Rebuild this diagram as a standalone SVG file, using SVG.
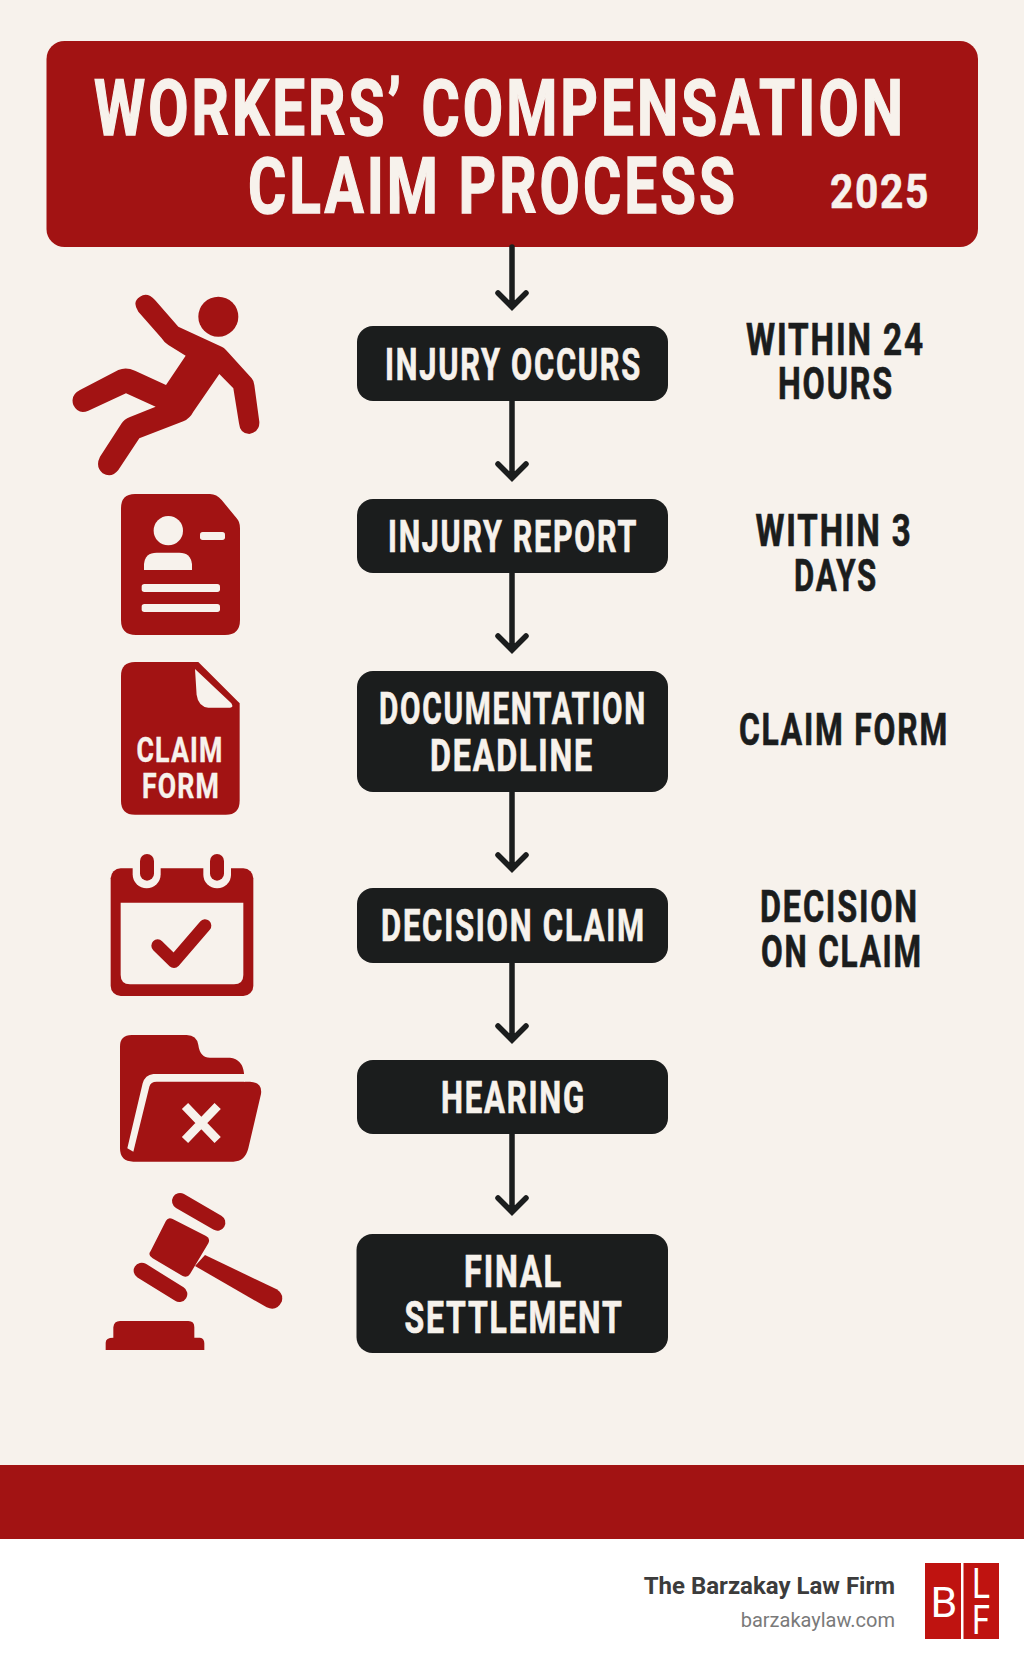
<svg xmlns="http://www.w3.org/2000/svg" width="1024" height="1666" viewBox="0 0 1024 1666">
<style>
.t{font-family:Roboto,"Liberation Sans",sans-serif;font-weight:700;text-anchor:middle}
.h{fill:#f7f2ec;stroke:#f7f2ec;stroke-width:1.4;font-size:77px;letter-spacing:4px}
.y{fill:#f7f2ec;stroke:#f7f2ec;stroke-width:.6;font-size:49px;letter-spacing:2px}
.b{fill:#f7f2ec;stroke:#f7f2ec;stroke-width:.7;font-size:44px;letter-spacing:2.500px}
.s{fill:#1b1d1d;stroke:#1b1d1d;stroke-width:.7;font-size:44px;letter-spacing:2.500px}
.i{fill:#f7f2ec;stroke:#f7f2ec;stroke-width:.4;font-size:35px;letter-spacing:1.500px}
.node{fill:#1b1d1d}
.red{fill:#a21313}
.bg{fill:#f7f2ec}
.c{fill:none;stroke:#1b1d1d;stroke-width:5.5;stroke-linecap:round;stroke-linejoin:miter}
</style>
<rect class="bg" width="1024" height="1666"/>
<g id="header"><rect class="red" x="46.5" y="41" width="931.5" height="206" rx="18"/>
<text class="t h" x="500" y="135" textLength="812" lengthAdjust="spacingAndGlyphs">WORKERS’ COMPENSATION</text>
<text class="t h" x="493" y="213" textLength="490" lengthAdjust="spacingAndGlyphs">CLAIM PROCESS</text>
<text class="t y" x="880" y="208" textLength="100" lengthAdjust="spacingAndGlyphs">2025</text></g>
<g id="connectors" class="c">
<path d="M512 247V307M498 293L512 307L526 293"/>
<path d="M512 400V478M498 464L512 478L526 464"/>
<path d="M512 573V650M498 636L512 650L526 636"/>
<path d="M512 792V869M498 855L512 869L526 855"/>
<path d="M512 963V1040M498 1026L512 1040L526 1026"/>
<path d="M512 1134V1212M498 1198L512 1212L526 1198"/>
</g>
<g id="n1"><rect class="node" x="357" y="326" width="311" height="75" rx="16"/><text class="t b" x="513.5" y="380" textLength="257" lengthAdjust="spacingAndGlyphs">INJURY OCCURS</text></g>
<g id="n2"><rect class="node" x="357" y="499" width="311" height="74" rx="16"/><text class="t b" x="513" y="552" textLength="250" lengthAdjust="spacingAndGlyphs">INJURY REPORT</text></g>
<g id="n3"><rect class="node" x="357" y="671" width="311" height="121" rx="16"/><text class="t b" x="513" y="724" textLength="268" lengthAdjust="spacingAndGlyphs">DOCUMENTATION</text><text class="t b" x="512" y="771" textLength="164" lengthAdjust="spacingAndGlyphs">DEADLINE</text></g>
<g id="n4"><rect class="node" x="357" y="888" width="311" height="75" rx="16"/><text class="t b" x="513.5" y="941" textLength="265" lengthAdjust="spacingAndGlyphs">DECISION CLAIM</text></g>
<g id="n5"><rect class="node" x="357" y="1060" width="311" height="74" rx="16"/><text class="t b" x="513.500" y="1113" textLength="145" lengthAdjust="spacingAndGlyphs">HEARING</text></g>
<g id="n6"><rect class="node" x="356.500" y="1234" width="311.500" height="119" rx="16"/><text class="t b" x="513.5" y="1287" textLength="99" lengthAdjust="spacingAndGlyphs">FINAL</text><text class="t b" x="514" y="1333" textLength="219" lengthAdjust="spacingAndGlyphs">SETTLEMENT</text></g>
<g id="side1"><text class="t s" x="835.500" y="355" textLength="179" lengthAdjust="spacingAndGlyphs">WITHIN 24</text><text class="t s" x="836" y="399" textLength="116" lengthAdjust="spacingAndGlyphs">HOURS</text></g>
<g id="side2"><text class="t s" x="834" y="546" textLength="157" lengthAdjust="spacingAndGlyphs">WITHIN 3</text><text class="t s" x="836" y="591" textLength="84" lengthAdjust="spacingAndGlyphs">DAYS</text></g>
<g id="side3"><text class="t s" x="844" y="745" textLength="210" lengthAdjust="spacingAndGlyphs">CLAIM FORM</text></g>
<g id="side4"><text class="t s" x="839.500" y="922" textLength="159" lengthAdjust="spacingAndGlyphs">DECISION</text><text class="t s" x="842" y="967" textLength="162" lengthAdjust="spacingAndGlyphs">ON CLAIM</text></g>
<g id="icon-fall" transform="translate(40 280) scale(.33333)">
<circle class="red" cx="535" cy="110" r="60"/>
<path class="red" d="M295 95Q275 65 300 50Q322 35 345 60L415 140L545 200Q552 203 558 210L635 295Q642 303 643 315L658 425Q660 455 628 462Q600 462 597 430L580 325L538 282L460 395Q450 415 430 424L298 475L235 570Q215 595 188 580Q165 560 180 530L245 430Q252 418 270 411L347 380L258 340L145 392Q115 405 100 375Q90 345 120 330L235 270Q258 260 285 272L378 315L437 227L385 195Q372 187 365 175Z"/>
</g>
<g id="icon-report" transform="translate(40 280) scale(.33333)">
<path class="red" d="M285 642H510Q530 642 545 660L590 715Q600 725 600 745V1020Q600 1065 555 1065H288Q243 1065 243 1020V685Q243 642 285 642Z"/>
<circle class="bg" cx="385" cy="752" r="44"/>
<path class="bg" d="M312 870V852Q315 818 350 818H418Q452 818 456 852V870Z"/>
<rect class="bg" x="480" y="756" width="75" height="24" rx="8"/>
<rect class="bg" x="305" y="912" width="235" height="24" rx="8"/>
<rect class="bg" x="305" y="972" width="235" height="24" rx="8"/>
</g>
<g id="icon-claim"><g transform="translate(90 650) scale(.33333)">
<path class="red" d="M135 36H325L449 160V452Q449 494 407 494H135Q93 494 93 452V78Q93 36 135 36Z"/>
<path class="bg" d="M315 57L424 160Q432 173 420 173H355Q325 170 320 135Z"/>
</g>
<text class="t i" x="180" y="762" textLength="87" lengthAdjust="spacingAndGlyphs">CLAIM</text><text class="t i" x="181" y="798" textLength="78" lengthAdjust="spacingAndGlyphs">FORM</text></g>
<g id="icon-calendar" transform="translate(90 650) scale(.33333)">
<rect class="red" x="62" y="655" width="428" height="383" rx="30"/>
<path class="bg" d="M92 758H460V975Q460 1003 432 1003H120Q92 1003 92 975Z"/>
<rect class="bg" x="128" y="600" width="84" height="115" rx="42"/>
<rect class="bg" x="340" y="600" width="83" height="115" rx="41"/>
<rect class="red" x="150" y="612" width="42" height="80" rx="21"/>
<rect class="red" x="360" y="612" width="42" height="80" rx="21"/>
<path d="M203 887L252 935L345 827" fill="none" stroke="#a21313" stroke-width="38" stroke-linecap="round" stroke-linejoin="round"/>
</g>
<g id="icon-folder" transform="translate(90 1020) scale(.33333)">
<path class="red" d="M90 80Q90 45 125 45H290Q320 45 325 75Q330 113 360 113H420Q458 118 462 160V185H480Q518 187 513 222L475 385Q465 425 430 425H130Q90 425 90 385Z"/>
<path class="bg" d="M464 162H190Q165 165 158 190L112 385L130 395L178 200Q182 185 200 185H464Z"/>
<path d="M285 258L383 360M383 258L285 360" stroke="#f7f2ec" stroke-width="26" fill="none"/>
</g>
<g id="icon-gavel" transform="translate(90 1020) scale(.33333)">
<path d="M270 543L382 608" stroke="#a21313" stroke-width="48" stroke-linecap="round" fill="none"/>
<path d="M155 752L268 822" stroke="#a21313" stroke-width="48" stroke-linecap="round" fill="none"/>
<path class="red" d="M228 602Q235 590 248 597L348 648Q362 655 355 670L300 762Q292 775 278 768L188 715Q172 705 182 693Z"/>
<path class="red" d="M345 705L560 808Q582 822 575 845Q560 875 530 862L315 738Z"/>
<path class="red" d="M47 990V968Q47 953 70 953V922Q72 903 90 903H295Q313 903 313 922V953H330Q343 955 343 970V990Z"/>
</g>
<rect id="band" class="red" y="1465" width="1024" height="74"/>
<rect id="footer" y="1539" width="1024" height="127" fill="#fff"/>
<g id="brand"><text x="895" y="1594" font-family="Roboto,sans-serif" font-weight="700" font-size="24" fill="#3c3c3c" text-anchor="end">The Barzakay Law Firm</text><text x="895" y="1627" font-family="Roboto,sans-serif" font-size="20" fill="#7a7a7a" text-anchor="end">barzakaylaw.com</text>
<rect x="925" y="1563" width="36" height="76" fill="#bf1310"/><rect x="963.500" y="1563" width="35.500" height="76" fill="#bf1310"/>
<text x="944" y="1617" font-family="Roboto,sans-serif" font-size="43" fill="#fff" text-anchor="middle">B</text>
<text x="972" y="1598" font-family="Roboto,sans-serif" font-size="43" fill="#fff" textLength="18" lengthAdjust="spacingAndGlyphs">L</text>
<text x="972" y="1634" font-family="Roboto,sans-serif" font-size="40" fill="#fff" textLength="18" lengthAdjust="spacingAndGlyphs">F</text></g>
</svg>
